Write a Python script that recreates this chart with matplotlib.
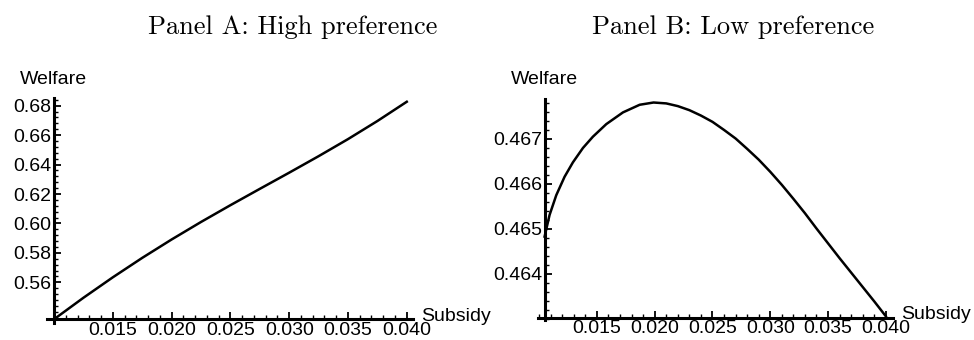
import numpy as np
import matplotlib
matplotlib.use("Agg")
import matplotlib.pyplot as plt
from matplotlib.ticker import MultipleLocator

# Panel A: welfare vs subsidy, high preference
sub_a = [0.010, 0.0125, 0.015, 0.0175, 0.020, 0.0225, 0.025, 0.0275, 0.030, 0.0325, 0.035, 0.0375, 0.040]
wel_a = [0.5349, 0.5495, 0.5634, 0.5766, 0.5891, 0.6010, 0.6124, 0.6235, 0.6345, 0.6457, 0.6573, 0.6696, 0.6827]

# Panel B: welfare vs subsidy, low preference
sub_b = [0.01047, 0.0109, 0.01148, 0.0122, 0.01292, 0.01379, 0.01465, 0.01581, 0.01725, 0.0187,
         0.0199, 0.021, 0.022, 0.023, 0.024, 0.025, 0.026, 0.027, 0.028, 0.029,
         0.030, 0.031, 0.032, 0.033, 0.034, 0.035, 0.036, 0.037, 0.038, 0.039, 0.040]
wel_b = [0.46482, 0.46530, 0.46574, 0.46615, 0.46647, 0.46679, 0.46704, 0.46732, 0.46758, 0.46775,
         0.46780, 0.46778, 0.46772, 0.46763, 0.46751, 0.46737, 0.46719, 0.46700, 0.46677, 0.46653,
         0.46626, 0.46597, 0.46566, 0.46534, 0.46500, 0.46467, 0.46434, 0.46402, 0.46370, 0.46338, 0.46305]

xticks = [0.015, 0.020, 0.025, 0.030, 0.035, 0.040]
xtick_labels = ["0.015", "0.020", "0.025", "0.030", "0.035", "0.040"]
yticks_a = [0.56, 0.58, 0.60, 0.62, 0.64, 0.66, 0.68]
ytick_labels_a = ["0.56", "0.58", "0.60", "0.62", "0.64", "0.66", "0.68"]
yticks_b = [0.464, 0.465, 0.466, 0.467]
ytick_labels_b = ["0.464", "0.465", "0.466", "0.467"]

plt.rcParams["font.family"] = ["Liberation Sans", "DejaVu Sans"]

fig = plt.figure(figsize=(9.74, 3.4), dpi=100)


def panel(rect, x, y, xlim, ylim, origin, yt, ytl, yminor):
    ax = fig.add_axes(rect)
    ax.patch.set_alpha(0)
    ax.plot(x, y, color="black", lw=1.8, clip_on=False, solid_joinstyle="round")
    ax.set_xlim(xlim)
    ax.set_ylim(ylim)
    ax.spines["top"].set_visible(False)
    ax.spines["right"].set_visible(False)
    ax.spines["left"].set_position(("data", origin[0]))
    ax.spines["bottom"].set_position(("data", origin[1]))
    ax.spines["left"].set_linewidth(2.2)
    ax.spines["bottom"].set_linewidth(2.2)
    ax.set_xticks(xticks)
    ax.set_xticklabels(xtick_labels)
    ax.set_yticks(yt)
    ax.set_yticklabels(ytl)
    ax.xaxis.set_minor_locator(MultipleLocator(0.001))
    ax.yaxis.set_minor_locator(MultipleLocator(yminor))
    ax.tick_params(which="major", direction="in", length=5, width=1.3, labelsize=14, pad=2)
    ax.tick_params(which="minor", direction="in", length=3, width=1.0)
    ax.annotate("Subsidy", xy=(xlim[1], origin[1]), xycoords="data",
                xytext=(6, 2), textcoords="offset points",
                ha="left", va="center", fontsize=14)
    return ax


ax1 = panel([47 / 974, 1 - 323 / 340, 366 / 974, 225 / 340],
            sub_a, wel_a, (0.0094, 0.04053), (0.53234, 0.68525),
            (0.010, 0.5349), yticks_a, ytick_labels_a, 0.004)
ax2 = panel([538 / 974, 1 - 320 / 340, 355 / 974, 221 / 340],
            sub_b, wel_b, (0.0099, 0.04062), (0.462967, 0.467878),
            (0.0105, 0.46302), yticks_b, ytick_labels_b, 0.0002)

fig.text(20 / 974, 1 - 79 / 340, "Welfare", ha="left", va="center", fontsize=14)
fig.text(511 / 974, 1 - 80 / 340, "Welfare", ha="left", va="center", fontsize=14)

fig.text(293 / 974, 1 - 34 / 340, "Panel A: High preference", ha="center", va="baseline",
         fontsize=19, family="cmr10")
fig.text(733 / 974, 1 - 34 / 340, "Panel B: Low preference", ha="center", va="baseline",
         fontsize=19, family="cmr10")

fig.savefig("out.png", dpi=100)
